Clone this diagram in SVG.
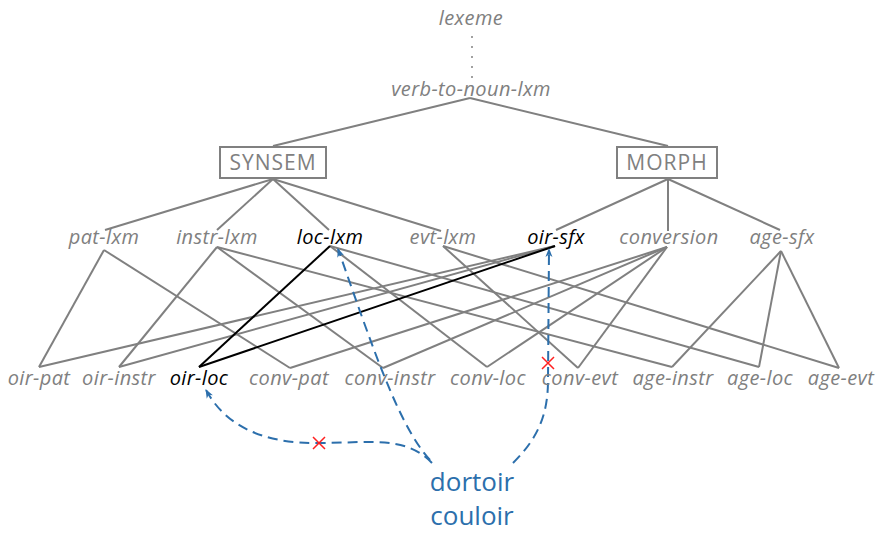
<svg xmlns="http://www.w3.org/2000/svg" width="877" height="534" viewBox="0 0 877 534">
<style>
  text { font-family: "Open Sans", Lato, "Liberation Sans", sans-serif; }
  .t { font-size: 20px; letter-spacing: 0.4px; font-style: italic; fill: #808080; text-anchor: middle; }
  .b { fill: #000000; }
  .box { fill: #ffffff; stroke: #808080; stroke-width: 2; }
  .bt { font-size: 21px; letter-spacing: 1px; fill: #808080; text-anchor: middle; }
  .e { stroke: #808080; stroke-width: 2; fill: none; }
  .k { stroke: #000000; stroke-width: 2; fill: none; }
  .d { stroke: #2c6fac; stroke-width: 2; fill: none; stroke-dasharray: 10 6; }
  .x { stroke: #ff2020; stroke-width: 1.5; }
  .w { font-size: 26px; fill: #2c6fac; text-anchor: middle; }
</style>
<defs>
  <marker id="arr" markerWidth="10" markerHeight="8" refX="8" refY="4" orient="auto" markerUnits="userSpaceOnUse">
    <path d="M0,0.5 L9,4 L0,7.5 L2.5,4 Z" fill="#2c6fac" stroke="none"/>
  </marker>
</defs>
<g id="connectors">
  <line class="e" x1="472" y1="37" x2="472" y2="80" stroke-dasharray="0 10" stroke-linecap="round"/>
  <line class="e" x1="470" y1="98" x2="273" y2="146"/>
  <line class="e" x1="470" y1="98" x2="668" y2="146"/>
  <line class="e" x1="273" y1="179" x2="105" y2="230"/>
  <line class="e" x1="273" y1="179" x2="217" y2="230"/>
  <line class="e" x1="273" y1="179" x2="329" y2="230"/>
  <line class="e" x1="273" y1="179" x2="441" y2="231"/>
  <line class="e" x1="668" y1="179" x2="556" y2="230"/>
  <line class="e" x1="668" y1="179" x2="668" y2="231"/>
  <line class="e" x1="668" y1="179" x2="780" y2="230"/>
  <line class="e" x1="104" y1="250" x2="39" y2="367"/>
  <line class="e" x1="104" y1="250" x2="290" y2="368"/>
  <line class="e" x1="217" y1="247" x2="119" y2="367"/>
  <line class="e" x1="217" y1="247" x2="383" y2="368"/>
  <line class="e" x1="217" y1="247" x2="672" y2="367"/>
  <line class="e" x1="330" y1="246" x2="487" y2="367"/>
  <line class="e" x1="330" y1="246" x2="759" y2="367"/>
  <line class="e" x1="443" y1="246" x2="578" y2="368"/>
  <line class="e" x1="443" y1="246" x2="839" y2="368"/>
  <line class="e" x1="555" y1="246" x2="39" y2="367"/>
  <line class="e" x1="555" y1="246" x2="119" y2="367"/>
  <line class="e" x1="667" y1="247" x2="290" y2="368"/>
  <line class="e" x1="667" y1="247" x2="383" y2="368"/>
  <line class="e" x1="667" y1="247" x2="487" y2="367"/>
  <line class="e" x1="667" y1="247" x2="578" y2="368"/>
  <line class="e" x1="781" y1="251" x2="672" y2="367"/>
  <line class="e" x1="781" y1="251" x2="759" y2="367"/>
  <line class="e" x1="781" y1="251" x2="839" y2="368"/>
  <line class="k" x1="330" y1="246" x2="199" y2="367"/>
  <line class="k" x1="555" y1="246" x2="199" y2="367"/>
  <path class="d" d="M432,463 C405,435 370,443 319,443 C262,444 225,425 206,390" marker-end="url(#arr)"/>
  <path class="d" d="M430,460 C398,425 372,345 338,249" marker-end="url(#arr)"/>
  <path class="d" d="M513,463 C538,438 548,415 548,380 L549,249" marker-end="url(#arr)"/>
  <path class="x" d="M313,437 L325,449 M325,437 L313,449"/>
  <path class="x" d="M542,357 L554,369 M554,357 L542,369"/>
</g>
<g id="lexeme"><text class="t" x="471" y="25">lexeme</text></g>
<g id="verb-to-noun-lxm"><text class="t" x="471" y="96">verb-to-noun-lxm</text></g>
<g id="SYNSEM"><rect class="box" x="220" y="147" width="106" height="31"/><text class="bt" x="273" y="170">SYNSEM</text></g>
<g id="MORPH"><rect class="box" x="617" y="147" width="100" height="31"/><text class="bt" x="667" y="170">MORPH</text></g>
<g id="pat-lxm"><text class="t" x="104" y="244">pat-lxm</text></g>
<g id="instr-lxm"><text class="t" x="217" y="244">instr-lxm</text></g>
<g id="loc-lxm"><text class="t b" x="330" y="244">loc-lxm</text></g>
<g id="evt-lxm"><text class="t" x="443" y="244">evt-lxm</text></g>
<g id="oir-sfx"><text class="t b" x="556" y="244">oir-sfx</text></g>
<g id="conversion"><text class="t" x="669" y="244">conversion</text></g>
<g id="age-sfx"><text class="t" x="782" y="244">age-sfx</text></g>
<g id="oir-pat"><text class="t" x="39" y="385">oir-pat</text></g>
<g id="oir-instr"><text class="t" x="119" y="385">oir-instr</text></g>
<g id="oir-loc"><text class="t b" x="199" y="385">oir-loc</text></g>
<g id="conv-pat"><text class="t" x="289" y="385">conv-pat</text></g>
<g id="conv-instr"><text class="t" x="390" y="385">conv-instr</text></g>
<g id="conv-loc"><text class="t" x="488" y="385">conv-loc</text></g>
<g id="conv-evt"><text class="t" x="580" y="385">conv-evt</text></g>
<g id="age-instr"><text class="t" x="673" y="385">age-instr</text></g>
<g id="age-loc"><text class="t" x="760" y="385">age-loc</text></g>
<g id="age-evt"><text class="t" x="841" y="385">age-evt</text></g>
<g id="words"><text class="w" x="472" y="491">dortoir</text><text class="w" x="472" y="525">couloir</text></g>
</svg>
